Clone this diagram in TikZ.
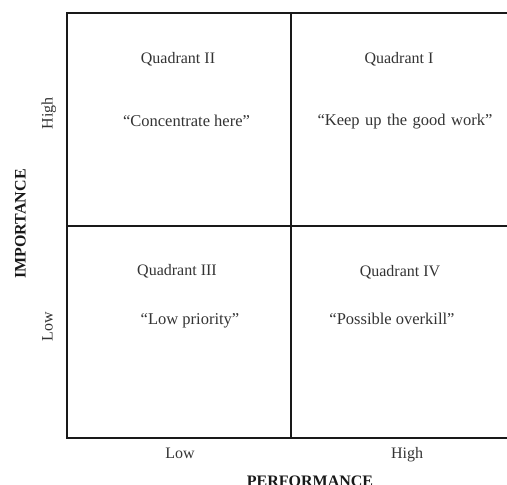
\documentclass[tikz,border=0pt]{standalone}
\usepackage{fontspec}
\setmainfont{Liberation Serif}
\begin{document}
\begin{tikzpicture}[x=1pt,y=-1pt,
  grid/.style={line width=2pt,draw=black!90},
  label/.style={font=\fontsize{16}{19}\selectfont,text=black!80,inner sep=0pt,anchor=base},
  quote/.style={font=\fontsize{16.5}{19}\selectfont,text=black!80,inner sep=0pt,anchor=base},
  axis/.style={font=\bfseries\fontsize{16}{19}\selectfont,text=black!90,inner sep=0pt,anchor=base}]
\useasboundingbox (0,0) rectangle (507,485);
% frame and dividers (open on the right)
\coordinate (tl) at (66.5,13.3);
\coordinate (tr) at (508,13.3);
\coordinate (bl) at (66.5,438.3);
\coordinate (br) at (508,438.3);
\coordinate (ml) at (66.5,225.5);
\coordinate (mr) at (508,225.5);
\coordinate (mt) at (291.3,13.3);
\coordinate (mb) at (291.3,438.3);
\draw[grid] (tr) -- (tl) -- (bl) -- (br);
\draw[grid] (ml) -- (mr);
\draw[grid] (mt) -- (mb);
% quadrant texts
\node[label] (q2) at (178,63.5) {Quadrant II};
\node[quote] (c2) at (186.5,126.5) {“Concentrate here”};
\node[label] (q1) at (399,63.5) {Quadrant I};
\node[quote] (c1) at (405,125) {\spaceskip=0.33em “Keep up the good work”};
\node[label] (q3) at (177,275) {Quadrant III};
\node[quote] (c3) at (190,324.5) {“Low priority”};
\node[label] (q4) at (400,276) {Quadrant IV};
\node[quote] (c4) at (392,324.5) {“Possible overkill”};
% axis labels
\node[label,rotate=90] (yh) at (52.5,113) {High};
\node[label,rotate=90] (yl) at (52.5,327) {Low};
\node[axis,rotate=90] (yt) at (25.5,224) {IMPORTANCE};
\node[label] (xl) at (180,458) {Low};
\node[label] (xh) at (407,458) {High};
\node[axis] (xt) at (310,486) {PERFORMANCE};
\end{tikzpicture}
\end{document}
